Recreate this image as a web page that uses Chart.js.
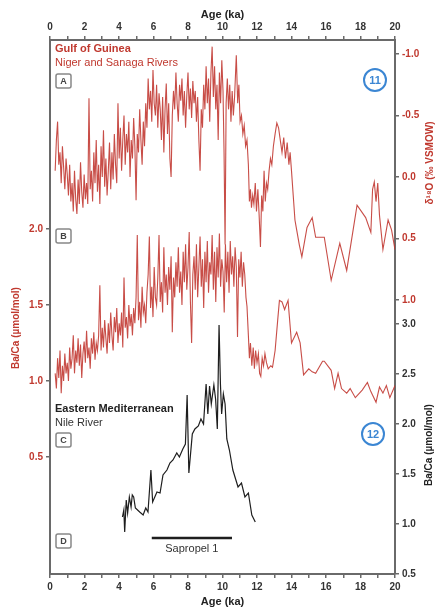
<!DOCTYPE html>
<html><head><meta charset="utf-8">
<script src="https://cdn.jsdelivr.net/npm/chart.js@4.4.0/dist/chart.umd.min.js"></script>
<style>html,body{margin:0;padding:0;background:#fff}</style>
</head>
<body>
<canvas id="c" width="435" height="610"></canvas>
<script>
// Gulf of Guinea d18O (permil VSMOW), [age ka, value]
const d18O = [
 [0.30,-0.05],[0.37,-0.30],[0.44,-0.45],[0.51,-0.10],[0.58,-0.20],[0.65,0.05],[0.72,-0.25],[0.79,-0.08],[0.86,0.10],[0.93,-0.15],[1.00,-0.02],
 [1.07,0.15],[1.14,-0.10],[1.21,0.20],[1.28,0.05],[1.35,0.28],[1.42,-0.05],[1.49,0.18],[1.56,0.30],[1.63,0.02],[1.70,0.22],[1.77,-0.12],[1.84,0.12],[1.91,0.25],[1.98,-0.02],[2.05,0.18],[2.12,0.05],[2.19,0.22],[2.26,-0.64],
 [2.33,0.10],[2.40,-0.05],[2.47,0.20],[2.54,-0.20],[2.61,0.05],[2.68,-0.30],[2.75,0.12],[2.82,-0.10],[2.89,0.22],[2.96,-0.25],[3.03,0.00],[3.10,-0.38],[3.17,0.08],[3.24,-0.15],[3.31,0.15],[3.38,-0.05],[3.45,-0.28],[3.52,0.10],[3.59,-0.20],[3.66,0.02],[3.73,-0.35],[3.80,-0.10],[3.87,0.05],[3.94,-0.60],
 [4.01,-0.15],[4.08,-0.40],[4.15,-0.05],[4.22,-0.30],[4.29,-0.50],[4.36,-0.10],[4.43,-0.35],[4.50,-0.20],[4.57,-0.45],[4.64,0.00],[4.71,-0.30],[4.78,-0.15],[4.85,-0.48],[4.92,-0.25],[4.99,0.19],[5.06,-0.35],[5.13,-0.20],[5.20,-0.55],[5.27,-0.30],[5.34,-0.10],[5.41,-0.45],[5.48,-0.25],[5.55,-0.60],
 [5.62,-0.40],[5.69,-0.80],[5.76,-0.55],[5.83,-0.70],[5.90,-0.45],[5.97,-0.87],[6.04,-0.60],[6.11,-0.50],[6.18,-0.75],[6.25,-0.40],[6.32,-0.68],[6.39,-0.55],
 [6.46,-0.30],[6.53,-0.65],[6.60,-0.20],[6.67,-0.55],[6.74,-0.76],[6.81,-0.35],[6.88,-0.60],[6.95,-0.15],[7.02,0.00],[7.09,-0.50],
 [7.16,-0.70],[7.23,-0.55],[7.30,-0.85],[7.37,-0.60],[7.44,-0.45],[7.51,-0.75],[7.58,-0.62],[7.65,-0.80],[7.72,-0.50],[7.79,-0.70],[7.86,-0.40],[7.93,-0.66],[8.00,-0.85],[8.07,-0.55],[8.14,-0.72],[8.21,-0.48],[8.28,-0.78],[8.35,-0.60],[8.42,-0.70],[8.49,-0.45],
 [8.56,-0.65],[8.63,-0.30],[8.70,-0.05],[8.77,-0.55],[8.84,-0.40],
 [8.91,-0.75],[8.98,-0.55],[9.05,-0.90],[9.12,-0.60],[9.19,-0.80],[9.26,-0.45],[9.33,-0.85],[9.40,-1.06],[9.47,-0.65],[9.54,-0.90],[9.61,-0.55],[9.68,-0.75],[9.75,-0.30],[9.82,-0.85],[9.89,-0.60],[9.96,-0.95],[10.03,-0.70],
 [10.09,-0.20],[10.15,0.55],[10.21,-0.60],[10.28,-0.80],[10.35,-0.55],[10.42,-0.75],[10.49,-0.45],[10.56,-0.70],[10.63,-0.50],[10.70,-0.65],
 [10.80,-0.99],[10.88,-0.60],[10.95,-0.75],[11.02,-0.45],[11.10,-0.50],[11.18,-0.35],[11.26,-0.42],[11.34,-0.25],[11.42,-0.30],[11.50,-0.10],
 [11.56,0.20],[11.62,0.10],[11.68,0.25],[11.75,0.15],[11.82,0.22],[11.90,0.05],[11.97,0.28],[12.05,0.10],[12.12,0.30],[12.20,0.57],[12.27,0.15],[12.34,0.28],[12.41,-0.05],[12.48,0.20],[12.55,0.05],[12.62,0.10],
 [12.70,-0.05],[12.78,-0.15],[12.86,-0.10],[12.95,-0.25],[13.05,-0.35],[13.15,-0.44],[13.25,-0.40],[13.35,-0.30],[13.45,-0.20],[13.55,-0.32],[13.65,-0.15],[13.75,-0.28],[13.85,-0.10],[13.92,-0.20],
 [14.00,-0.05],[14.10,0.15],[14.20,0.35],[14.30,0.43],[14.45,0.55],[14.60,0.65],[14.90,0.41],[15.20,0.33],[15.40,0.49],[15.90,0.49],[16.30,0.84],[16.80,0.54],[17.20,0.76],[17.80,0.23],
 [18.30,0.33],[18.60,0.45],[18.70,0.10],[18.80,0.04],[18.90,0.20],[19.00,0.05],[19.10,0.31],[19.30,0.59],[19.60,0.35],[19.80,0.43],[20.00,0.59]
];

// Gulf of Guinea Ba/Ca (umol/mol), [age ka, value]
const baGuinea = [
 [0.30,1.05],[0.37,0.95],[0.44,1.15],[0.51,1.02],[0.58,1.20],[0.65,0.92],[0.72,1.10],[0.79,1.00],[0.86,1.18],[0.93,1.05],[1.00,1.12],
 [1.07,1.00],[1.14,1.22],[1.21,1.08],[1.28,1.15],[1.35,1.30],[1.42,1.05],[1.49,1.20],[1.56,1.12],[1.63,1.28],[1.70,1.10],[1.77,1.24],[1.84,1.02],[1.91,1.18],[1.98,1.26],[2.05,1.12],[2.12,1.33],[2.19,1.15],[2.26,1.22],[2.33,1.08],[2.40,1.28],[2.47,1.18],[2.54,1.32],[2.61,1.14],[2.68,1.25],[2.75,1.20],[2.82,1.30],[2.89,1.63],
 [2.96,1.20],[3.03,1.35],[3.10,1.22],[3.17,1.40],[3.24,1.28],[3.31,1.18],[3.38,1.38],[3.45,1.25],[3.52,1.45],[3.59,1.30],[3.66,1.20],[3.73,1.42],[3.80,1.32],[3.87,1.48],[3.94,1.25],[4.01,1.38],[4.08,1.30],[4.15,1.45],[4.22,1.22],[4.29,1.68],[4.36,1.35],[4.43,1.42],[4.50,1.28],[4.57,1.50],[4.64,1.36],[4.71,1.44],[4.78,1.30],
 [4.85,1.48],[4.92,1.38],[4.99,1.55],[5.06,1.96],[5.13,1.40],[5.20,1.52],[5.27,1.35],[5.34,1.62],[5.41,1.45],[5.48,1.50],[5.55,1.38],[5.62,1.58],[5.69,1.70],[5.76,1.95],[5.83,1.48],[5.90,1.62],[5.97,1.42],[6.04,1.75],[6.11,1.55],[6.18,1.50],[6.25,1.68],[6.32,1.96],[6.39,1.52],[6.46,1.65],[6.53,1.45],[6.60,1.88],[6.67,1.58],[6.74,1.70],
 [6.81,1.50],[6.88,1.75],[6.95,1.60],[7.02,1.82],[7.09,1.32],[7.16,1.68],[7.23,1.55],[7.30,1.78],[7.37,1.62],[7.44,1.88],[7.51,1.58],[7.58,1.72],[7.65,1.50],[7.72,1.85],[7.79,1.65],[7.86,1.90],[7.93,1.60],[8.00,1.75],[8.07,1.98],[8.14,1.52],[8.21,1.25],[8.28,1.70],
 [8.35,1.82],[8.42,1.60],[8.49,1.90],[8.56,1.55],[8.63,1.75],[8.70,1.95],[8.77,1.62],[8.84,1.80],[8.91,1.48],[8.98,1.85],[9.05,1.65],[9.12,1.92],[9.19,1.58],[9.26,1.78],[9.33,1.70],[9.40,1.96],[9.47,1.60],[9.54,1.85],[9.61,1.52],[9.68,1.88],[9.75,1.68],[9.82,1.97],[9.89,1.62],[9.96,1.80],
 [10.03,1.72],[10.10,1.45],[10.17,1.90],[10.24,1.65],[10.31,1.85],[10.38,1.58],[10.45,1.92],[10.52,1.70],[10.59,1.82],[10.66,1.62],[10.73,1.88],[10.80,1.75],[10.87,1.29],[10.94,1.80],[11.01,1.68],[11.08,1.85],[11.15,1.62],[11.22,1.78],[11.29,1.70],[11.36,1.55],[11.42,1.49],
 [11.50,1.30],[11.56,1.15],[11.62,1.25],[11.70,1.10],[11.78,1.22],[11.85,1.08],[11.92,1.20],[12.00,1.12],[12.08,1.18],[12.15,1.05],[12.22,1.03],[12.30,1.15],[12.38,1.10],[12.46,1.18],[12.55,1.12],[12.65,1.08],[12.80,1.10],[12.90,1.09],
 [13.05,1.20],[13.20,1.40],[13.30,1.53],[13.45,1.52],[13.60,1.47],[13.80,1.53],[14.00,1.25],[14.30,1.32],[14.50,1.25],[14.70,1.04],[15.00,1.08],[15.20,1.06],[15.40,1.05],[15.80,1.13],[15.90,1.13],
 [16.30,1.07],[16.50,0.95],[16.70,1.05],[16.90,0.95],[17.20,0.92],[17.40,0.95],[17.70,0.89],[18.10,0.94],[18.40,0.99],[18.60,0.93],[18.90,0.86],[19.10,0.96],[19.30,0.92],[19.50,0.97],[19.70,0.89],[20.00,0.97]
];

// Eastern Mediterranean (Nile) Ba/Ca (umol/mol), [age ka, value]
const baNile = [
 [4.20,1.07],[4.28,1.14],[4.33,0.92],[4.42,1.24],[4.50,1.11],[4.60,1.27],[4.70,1.17],[4.77,1.29],[4.85,1.27],[4.95,1.16],[5.20,1.12],[5.40,1.09],[5.55,1.16],[5.68,1.12],[5.85,1.54],[5.95,1.22],
 [6.20,1.32],[6.38,1.31],[6.55,1.49],[6.78,1.54],[6.95,1.61],[7.13,1.64],[7.35,1.71],[7.50,1.67],[7.70,1.75],[7.85,1.80],[7.95,2.29],[8.05,1.51],[8.25,1.90],[8.40,1.95],[8.60,1.98],[8.75,2.05],[8.90,2.00],
 [9.05,2.40],[9.15,2.10],[9.25,2.38],[9.35,2.20],[9.50,2.39],[9.60,2.25],[9.70,1.95],[9.80,2.99],[9.88,2.40],[9.95,2.10],[10.05,2.30],[10.15,2.20],[10.25,1.85],[10.40,1.74],[10.60,1.54],[10.90,1.37],
 [11.10,1.41],[11.30,1.27],[11.50,1.31],[11.70,1.09],[11.90,1.02]
];

// Sapropel 1 interval (ka) and the level of its bar on the Nile Ba/Ca axis
const sapropelAge = [5.9, 10.55];
const sapropelLevel = 0.86;

const xTicks = [0, 2, 4, 6, 8, 10, 12, 14, 16, 18, 20];
const baGuineaTicks = [0.5, 1.0, 1.5, 2.0];
const d18OTicks = [-1.0, -0.5, 0.0, 0.5, 1.0];
const baNileTicks = [0.5, 1.0, 1.5, 2.0, 2.5, 3.0];

const RED = '#c0392f';
const LINE_RED = 'rgba(192,52,46,0.88)';
const AXIS = '#6a6a6a';
const FONT = 'Liberation Sans';

const pts = arr => arr.map(p => ({x: p[0], y: p[1]}));
const setTicks = vals => scale => { scale.ticks = vals.map(v => ({value: v})); };
const tickFont = {family: FONT, size: 10, weight: 'bold'};

function xAxis(pos, h, pad) {
  return {
    type: 'linear', position: pos, min: 0, max: 20,
    border: {color: AXIS, width: 2},
    grid: {drawOnChartArea: false, tickLength: 4, color: AXIS, lineWidth: 1.5},
    ticks: {stepSize: 1, autoSkip: false, maxRotation: 0, padding: 3, color: '#333', font: tickFont,
            callback: v => xTicks.includes(v) ? String(v) : ''},
    title: {display: true, text: 'Age (ka)', color: '#222', font: {family: FONT, size: 11, weight: 'bold'}, padding: pad},
    afterFit: s => { s.height = h; }
  };
}

function yAxis(pos, opts, vals, color, w) {
  return Object.assign({
    type: 'linear', position: pos,
    border: {color: AXIS, width: 2},
    grid: {drawOnChartArea: false, tickLength: 4, color: AXIS, lineWidth: 1.5},
    ticks: {color: color, font: tickFont, padding: 3, callback: v => v.toFixed(1)},
    afterBuildTicks: setTicks(vals),
    afterFit: s => { s.width = w; }
  }, opts);
}

const notes = {
  id: 'notes',
  afterDraw(chart) {
    const ctx = chart.ctx, sx = chart.scales.x;
    ctx.save();
    ctx.textBaseline = 'middle';
    function text(t, x, y, font, color, align, rot) {
      ctx.save();
      ctx.translate(x, y);
      if (rot) ctx.rotate(rot);
      ctx.font = font; ctx.fillStyle = color; ctx.textAlign = align || 'left';
      ctx.fillText(t, 0, 0);
      ctx.restore();
    }
    text('Gulf of Guinea', 55, 49, 'bold 11px ' + FONT, RED);
    text('Niger and Sanaga Rivers', 55, 63, '11px ' + FONT, RED);
    text('Eastern Mediterranean', 55, 409, 'bold 11px ' + FONT, '#222');
    text('Nile River', 55, 423, '11px ' + FONT, '#333');

    // panel letters
    [['A', 81], ['B', 236], ['C', 440], ['D', 541]].forEach(([l, y]) => {
      ctx.beginPath();
      ctx.lineWidth = 1.5; ctx.strokeStyle = '#888'; ctx.fillStyle = '#fff';
      ctx.roundRect(56, y - 7, 15, 14, 2);
      ctx.fill(); ctx.stroke();
      text(l, 63.5, y + 0.5, 'bold 9px ' + FONT, '#444', 'center');
    });

    // circled figure numbers
    [['11', 375, 80], ['12', 373, 434]].forEach(([n, x, y]) => {
      ctx.beginPath();
      ctx.lineWidth = 2; ctx.strokeStyle = '#3b86d3';
      ctx.arc(x, y, 11, 0, Math.PI * 2);
      ctx.stroke();
      text(n, x, y + 0.5, 'bold 11px ' + FONT, '#3b86d3', 'center');
    });

    text('Sapropel 1', sx.getPixelForValue((sapropelAge[0] + sapropelAge[1]) / 2), 549, '11px ' + FONT, '#333', 'center');

    // axis titles
    text('Ba/Ca (\u00b5mol/mol)', 16, 328, 'bold 10px ' + FONT, RED, 'center', -Math.PI / 2);
    text('\u03b4\u00b9\u2078O (\u2030 VSMOW)', 430, 163, 'bold 10px ' + FONT, RED, 'center', -Math.PI / 2);
    text('Ba/Ca (\u00b5mol/mol)', 429, 445, 'bold 10px ' + FONT, '#222', 'center', -Math.PI / 2);
    ctx.restore();
  }
};

new Chart(document.getElementById('c'), {
  type: 'line',
  data: {
    datasets: [
      {data: pts(d18O), xAxisID: 'x', yAxisID: 'yO', borderColor: LINE_RED, borderWidth: 1.1},
      {data: pts(baGuinea), xAxisID: 'x', yAxisID: 'yG', borderColor: LINE_RED, borderWidth: 1.1},
      {data: pts(baNile), xAxisID: 'x', yAxisID: 'yN', borderColor: '#1e1e1e', borderWidth: 1.2},
      {data: sapropelAge.map(a => ({x: a, y: sapropelLevel})), xAxisID: 'x', yAxisID: 'yN', borderColor: '#1e1e1e', borderWidth: 2.5}
    ]
  },
  options: {
    responsive: false,
    animation: false,
    devicePixelRatio: 1,
    layout: {padding: 0},
    elements: {point: {radius: 0}, line: {tension: 0}},
    plugins: {legend: {display: false}, tooltip: {enabled: false}},
    scales: {
      x: xAxis('bottom', 36, {top: 0, bottom: 1}),
      x2: xAxis('top', 40, {top: 8, bottom: 0}),
      yG: yAxis('left', {min: -0.27, max: 3.243}, baGuineaTicks, RED, 50),
      yO: yAxis('right', {min: -1.114, max: 1.098, reverse: true, stack: 'right', stackWeight: 272}, d18OTicks, RED, 40),
      yN: yAxis('right', {min: 0.5, max: 3.12, stack: 'right', stackWeight: 262}, baNileTicks, '#333', 40)
    }
  },
  plugins: [notes]
});
</script>
</body></html>
